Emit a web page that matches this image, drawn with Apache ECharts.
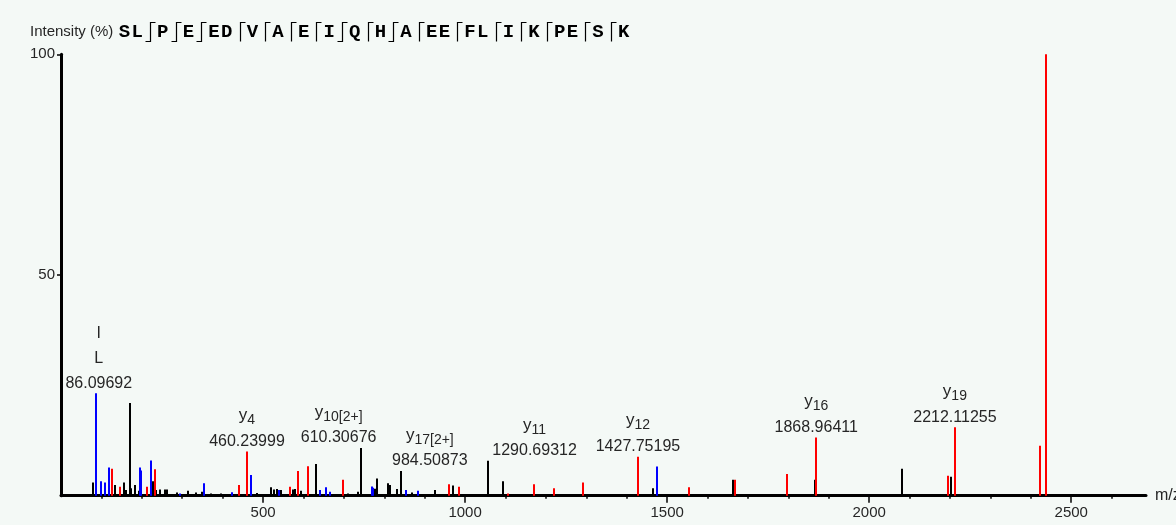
<!DOCTYPE html>
<html>
<head>
<meta charset="utf-8">
<title>SLPEEDVAEIQHAEEFLIKPESK – MS/MS spectrum</title>
<script src="https://cdn.jsdelivr.net/npm/echarts@6/dist/echarts.min.js"></script>
<style>
  html, body { margin: 0; padding: 0; background: #f4f9f6; }
  #chart { width: 1176px; height: 525px; }
</style>
</head>
<body>
<div id="chart"></div>
<script>
// ---- spectrum peaks (m/z, relative intensity %) ----
// y-type fragment ions (red)
const yIonMz  = [126, 146, 213.5, 233.5, 440, 460.23999, 567, 585.5, 610.30676, 697, 960, 984.50873, 1105, 1170, 1220, 1290.69312, 1427.75195, 1554, 1669, 1797, 1868.96411, 2194, 2212.11255, 2422, 2437];
const yIonInt = [6.1, 2.0, 2.0, 6.0, 2.4, 10.0, 2.0, 5.6, 6.7, 3.6, 2.6, 2.0, 0.5, 2.6, 1.7, 3.0, 8.85, 1.9, 3.6, 4.9, 13.2, 4.5, 15.5, 11.3, 100];

// b-type / immonium ions (blue)
const bIonMz  = [86.09692, 98, 108, 118, 195.5, 198.7, 223.5, 294, 354, 422, 470, 539, 641, 657, 665, 768.6, 771, 853.5, 884, 1475.5];
const bIonInt = [23.2, 3.3, 3.0, 6.4, 6.4, 5.7, 8.0, 0.5, 2.8, 0.8, 4.7, 1.3, 1.3, 1.9, 0.9, 2.1, 1.8, 1.3, 1.1, 6.6];

// unassigned peaks (black)
const otherMz  = [80, 133.6, 156, 160, 170, 173, 183, 194, 228.5, 236, 245, 258, 263, 286, 315, 334, 348, 370, 397, 484, 519.5, 527, 534, 544, 574, 580, 593, 630, 711, 735, 742, 777, 782.5, 810, 814, 832, 841, 869, 925, 969, 1057, 1094, 1429, 1466, 1662, 1665, 1865, 2081, 2202];
const otherInt = [3.0, 2.4, 3.0, 1.3, 21.0, 1.7, 2.4, 1.1, 3.3, 1.3, 1.4, 1.4, 1.4, 0.7, 1.1, 0.7, 0.9, 0.5, 0.5, 0.6, 1.9, 1.4, 1.5, 1.3, 1.4, 1.5, 1.1, 7.2, 0.5, 0.9, 10.8, 1.6, 3.9, 2.8, 2.4, 1.5, 5.6, 0.7, 1.3, 2.3, 7.9, 3.3, 1.1, 1.7, 3.6, 1.2, 3.6, 6.1, 4.3];

// ---- annotated peaks ----
const labelMz       = [86.09692, 460.23999, 610.30676, 984.50873, 1290.69312, 1427.75195, 1868.96411, 2212.11255];
const labelIon      = ['', 'y', 'y', 'y', 'y', 'y', 'y', 'y'];
const labelIonSub   = ['', '4', '10[2+]', '17[2+]', '11', '12', '16', '19'];
const labelResidues = [['I', 'L'], [], [], [], [], [], [], []];
// horizontal nudges (px) that keep neighbouring labels from colliding
const labelShift    = [3, 0, 31, -29, -48, 0, 0, 0];

// ---- axis ticks ----
const xMajorTicks = [500, 1000, 1500, 2000, 2500];
const xMinorTicks = [100, 200, 300, 400, 600, 700, 800, 900, 1100, 1200, 1300, 1400, 1600, 1700, 1800, 1900, 2100, 2200, 2300, 2400, 2600];
const yTicks = [50, 100];

// ---- peptide sequence with observed cleavages ----
const seqGroups = ['SL', 'P', 'E', 'ED', 'V', 'A', 'E', 'I', 'Q', 'H', 'A', 'EE', 'FL', 'I', 'K', 'PE', 'S', 'K'];
const bCleavage = [1, 1, 1, 0, 0, 0, 0, 1, 0, 1, 0, 0, 0, 0, 0, 0, 0];
const yCleavage = [1, 1, 1, 1, 1, 1, 1, 1, 1, 1, 1, 1, 1, 1, 1, 1, 1];

const TEXT = '#262626';
const SANS = '"Liberation Sans", Arial, sans-serif';
const NUM_FONT = '16px ' + SANS;
const ION_FONT = '17px ' + SANS;
const SUB_FONT = '14px ' + SANS;

const measureCtx = document.createElement('canvas').getContext('2d');
function textW(str, font) { measureCtx.font = font; return measureCtx.measureText(str).width; }

const allPeaks = []
  .concat(yIonMz.map((m, i) => [m, yIonInt[i]]))
  .concat(bIonMz.map((m, i) => [m, bIonInt[i]]))
  .concat(otherMz.map((m, i) => [m, otherInt[i]]));

function intensityAt(mz) {
  const p = allPeaks.find(d => Math.abs(d[0] - mz) < 1e-6);
  return p ? p[1] : 0;
}

// vertical stick for every peak
function stickSeries(name, mzs, ints, color) {
  return {
    type: 'custom',
    name: name,
    silent: true,
    data: mzs.map((m, i) => [m, ints[i]]),
    renderItem: function (params, api) {
      const top = api.coord([api.value(0), api.value(1)]);
      const bot = api.coord([api.value(0), 0]);
      const x = Math.round(top[0]);
      return {
        type: 'line',
        shape: { x1: x, y1: top[1], x2: x, y2: bot[1] },
        style: { stroke: color, lineWidth: 2 }
      };
    },
    z: 2
  };
}

// labels sit just above the tallest stick that lies beneath them
function renderLabel(params, api) {
  const i = params.dataIndex;
  const mz = labelMz[i];
  const cx = api.coord([mz, 0])[0] + labelShift[i];
  const num = mz.toFixed(5);
  const numW = textW(num, NUM_FONT);
  const yW = labelIon[i] ? textW(labelIon[i], ION_FONT) : 0;
  const sW = labelIonSub[i] ? textW(labelIonSub[i], SUB_FONT) : 0;
  const half = Math.max(numW, yW + sW) / 2 + 6;
  const pxPerMz = api.size([1, 0])[0];
  const lo = mz + (labelShift[i] - half) / pxPerMz;
  const hi = mz + (labelShift[i] + half) / pxPerMz;
  let maxI = 0;
  allPeaks.forEach(d => { if (d[0] >= lo && d[0] <= hi && d[1] > maxI) maxI = d[1]; });
  const topY = api.coord([mz, maxI])[1];

  const children = [{
    type: 'text', x: cx, y: topY - 10,
    style: { text: num, font: NUM_FONT, fill: TEXT, align: 'center', verticalAlign: 'middle' }
  }];
  if (labelIon[i]) {
    const x0 = cx - (yW + sW) / 2;
    children.push({
      type: 'text', x: x0, y: topY - 36,
      style: { text: labelIon[i], font: ION_FONT, fill: TEXT, align: 'left', verticalAlign: 'middle' }
    });
    children.push({
      type: 'text', x: x0 + yW, y: topY - 31,
      style: { text: labelIonSub[i], font: SUB_FONT, fill: TEXT, align: 'left', verticalAlign: 'middle' }
    });
  }
  labelResidues[i].slice().reverse().forEach((r, k) => {
    children.push({
      type: 'text', x: cx, y: topY - 35 - 25 * k,
      style: { text: r, font: NUM_FONT, fill: TEXT, align: 'center', verticalAlign: 'middle' }
    });
  });
  return { type: 'group', children: children };
}

// sequence header: residues in slots, cleavage marks between groups
function buildHeader() {
  const els = [{
    type: 'text', x: 30, y: 32,
    style: { text: 'Intensity (%)', font: '15px ' + SANS, fill: TEXT, align: 'left', verticalAlign: 'middle' }
  }];
  const slot = 12.8;
  let x = 118;
  seqGroups.forEach((g, gi) => {
    for (const ch of g) {
      els.push({
        type: 'text', x: x + slot / 2, y: 32,
        style: { text: ch, font: 'bold 19px "Liberation Mono", "Courier New", monospace', fill: '#000', align: 'center', verticalAlign: 'middle' }
      });
      x += slot;
    }
    if (gi < seqGroups.length - 1) {
      const c = Math.round(x + slot / 2) + 0.5;
      const pts = [];
      if (bCleavage[gi]) pts.push([c - 5, 41.5]);
      pts.push([c, 41.5], [c, 22.5]);
      if (yCleavage[gi]) pts.push([c + 5, 22.5]);
      els.push({ type: 'polyline', shape: { points: pts }, style: { stroke: '#000', lineWidth: 1.2, fill: null } });
      x += slot;
    }
  });
  return els;
}

const chart = echarts.init(document.getElementById('chart'), null, { renderer: 'canvas' });
chart.setOption({
  backgroundColor: '#f4f9f6',
  animation: false,
  grid: { left: 61, right: 30, top: 54.3, bottom: 29.3, containLabel: false, outerBoundsMode: 'none' },
  xAxis: [{
    type: 'value', min: 0, max: 2685,
    name: 'm/z', nameLocation: 'end', nameGap: 9,
    nameTextStyle: { fontSize: 16, fontFamily: SANS, color: TEXT, padding: [8, 0, 0, 0] },
    axisLine: { show: true, onZero: false, lineStyle: { color: '#000', width: 3 } },
    axisTick: { show: true, customValues: xMajorTicks, length: 7, lineStyle: { color: '#000', width: 1.5 } },
    axisLabel: { customValues: xMajorTicks, formatter: v => String(v), fontSize: 15, fontFamily: SANS, color: TEXT, margin: 10 },
    splitLine: { show: false }
  }, {
    type: 'value', min: 0, max: 2685, position: 'bottom',
    axisLine: { show: false },
    axisTick: { show: true, customValues: xMinorTicks, length: 3, lineStyle: { color: '#000', width: 1.5 } },
    axisLabel: { show: false },
    splitLine: { show: false }
  }],
  yAxis: {
    type: 'value', min: 0, max: 100,
    axisLine: { show: true, lineStyle: { color: '#000', width: 3 } },
    axisTick: { show: true, customValues: yTicks, length: 4, lineStyle: { color: '#000', width: 1.5 } },
    axisLabel: { customValues: yTicks, formatter: v => String(v), fontSize: 15, fontFamily: SANS, color: TEXT, margin: 6 },
    splitLine: { show: false }
  },
  graphic: buildHeader(),
  series: [
    stickSeries('other', otherMz, otherInt, '#000000'),
    stickSeries('b ions', bIonMz, bIonInt, '#0000ff'),
    stickSeries('y ions', yIonMz, yIonInt, '#ff0000'),
    {
      type: 'custom', name: 'labels', silent: true, z: 3,
      data: labelMz.map((m, i) => [m, intensityAt(m)]),
      renderItem: renderLabel
    }
  ]
});
</script>
</body>
</html>
